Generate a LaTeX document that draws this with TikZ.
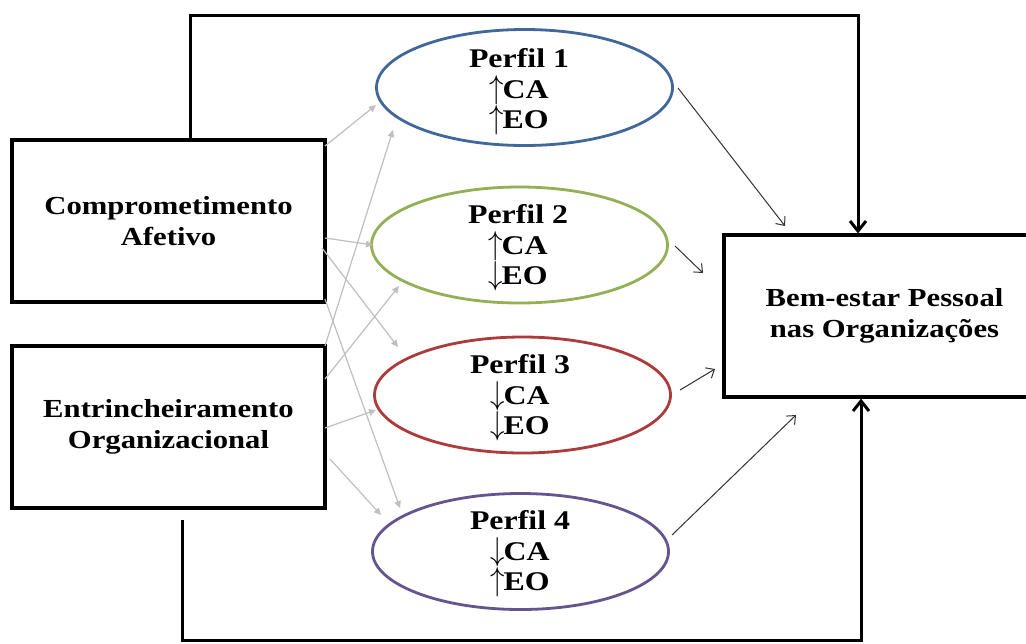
\documentclass[tikz,border=0pt]{standalone}
\usepackage{fontspec}
\setmainfont[FakeStretch=1.18]{Liberation Serif}
\usetikzlibrary{arrows.meta,shapes.geometric}
\definecolor{pblue}{HTML}{41689B}
\definecolor{pgreen}{HTML}{93B055}
\definecolor{pred}{HTML}{AE3B3B}
\definecolor{ppurple}{HTML}{64558F}
\definecolor{lgray}{HTML}{BFBFBF}
\definecolor{dgray}{HTML}{333333}
\newcommand{\hiarrow}{\smash{\scalebox{1}[1.15]{$\uparrow$}}\kern-0.5pt}
\newcommand{\loarrow}{\smash{\scalebox{1}[1.15]{$\downarrow$}}\kern-0.5pt}
\begin{document}
\begin{tikzpicture}[x=0.5pt,y=-0.5pt,
  box/.style={draw=black,line width=1.6pt,inner sep=0pt,minimum width=156.5pt,minimum height=81pt,
    font=\fontsize{13}{15.5}\selectfont\bfseries,align=center},
  prof/.style={ellipse,draw=#1,line width=1.4pt,inner sep=0pt,minimum width=148pt,minimum height=58pt},
  ptxt/.style={font=\fontsize{13.5}{15.25}\selectfont\bfseries,align=center,inner sep=0pt},
  grayarrow/.style={draw=lgray,line width=0.6pt,-{Triangle[length=3.5pt,width=3.2pt]}},
  darkarrow/.style={draw=dgray,line width=0.5pt,-{Straight Barb[length=3.5pt,width=6pt]}},
  thickline/.style={draw=black,line width=1.5pt},
  thickarrow/.style={thickline,-{Straight Barb[length=5pt,width=8pt,line width=1.5pt]}},
]
\useasboundingbox (0,0) rectangle (1026,643);
\fill[white] (0,0) rectangle (1026,643);

% boxes
\node[box] (ca) at (168.5,221) {Comprometimento\\Afetivo};
\node[box] (eo) at (168.5,427) {Entrincheiramento\\Organizacional};
\node[box,minimum width=160.5pt] (bem) at (884.5,316) {Bem-estar Pessoal\\nas Organizações};

% profiles
\node[prof=pblue]   (p1) at (524.5,87.5) {};
\node[prof=pgreen]  (p2) at (519.5,245) {};
\node[prof=pred]    (p3) at (522.5,395) {};
\node[prof=ppurple] (p4) at (520.5,551.5) {};
\node[ptxt] (t1) at (519,89) {Perfil 1\\\hiarrow CA\\\hiarrow EO};
\node[ptxt] (t2) at (518,245) {Perfil 2\\\hiarrow CA\\\loarrow EO};
\node[ptxt] (t3) at (520,395) {Perfil 3\\\loarrow CA\\\loarrow EO};
\node[ptxt] (t4) at (520,551) {Perfil 4\\\loarrow CA\\\hiarrow EO};

% light gray arrows: start and end points
\coordinate (g1s) at (325,146); \coordinate (g1e) at (376,105);
\coordinate (g2s) at (325,238); \coordinate (g2e) at (373,245);
\coordinate (g3s) at (322,248); \coordinate (g3e) at (398,347);
\coordinate (g4s) at (325,299); \coordinate (g4e) at (400,508);
\coordinate (g5s) at (325,346); \coordinate (g5e) at (393,130);
\coordinate (g6s) at (325,379); \coordinate (g6e) at (399,286);
\coordinate (g7s) at (325,428); \coordinate (g7e) at (376,410);
\coordinate (g8s) at (330,459); \coordinate (g8e) at (381,515);
\foreach \i in {1,...,8} {\draw[grayarrow] (g\i s) -- (g\i e);}

% dark arrows
\coordinate (d1s) at (678,88);  \coordinate (d1e) at (785,226);
\coordinate (d2s) at (675,246); \coordinate (d2e) at (703,273);
\coordinate (d3s) at (680,390); \coordinate (d3e) at (715,369);
\coordinate (d4s) at (672,535); \coordinate (d4e) at (796,415);
\foreach \i in {1,...,4} {\draw[darkarrow] (d\i s) -- (d\i e);}

% thick connectors
\coordinate (tl) at (190,15);
\coordinate (tr) at (858,15);
\draw[thickarrow] (tl |- ca.north) -- (tl) -- (tr) -- (tr |- bem.north);
\coordinate (bl) at (182,640);
\coordinate (br) at (861,640);
\draw[thickarrow,shorten <=5pt] (bl |- eo.south) -- (bl) -- (br) -- (br |- bem.south);
\end{tikzpicture}
\end{document}
